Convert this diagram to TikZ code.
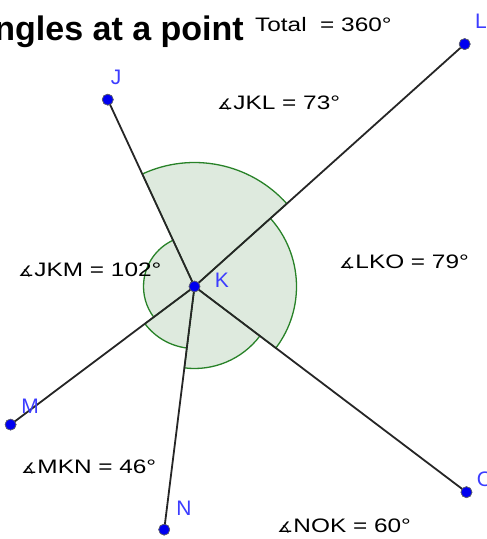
\documentclass[tikz,border=0pt]{standalone}
\usepackage{fontspec}
\usetikzlibrary{calc}
\setmainfont{Liberation Sans}
\newfontfamily\symfont{DejaVu Sans}
\definecolor{secfill}{RGB}{222,234,222}
\definecolor{secline}{RGB}{40,130,40}
\definecolor{ptblue}{RGB}{0,0,240}
\definecolor{lblblue}{RGB}{60,60,255}
\newcommand\widetext[1]{\scalebox{1.25}[1]{#1}}
\newcommand\angsym{{\symfont\fontsize{14.5}{14.5}\selectfont ∡}}
\begin{document}
\begin{tikzpicture}[x=1pt,y=1pt,
 sector/.style={fill=secfill,draw=secline,line width=1.3pt},
 ray/.style={draw=black!85,line width=1.8pt},
 pt/.style={circle,fill=ptblue,draw=black!60,line width=0.6pt,inner sep=0pt,minimum size=11pt},
 ptlabel/.style={text=lblblue,font=\fontsize{21}{21}\selectfont,inner sep=0pt},
 anglabel/.style={font=\fontsize{19.5}{19.5}\selectfont,inner sep=0pt,anchor=west}]
\useasboundingbox (0,0) rectangle (487,-539);
\coordinate (Kc) at (194.5,-286.5);
% sectors
\filldraw[sector] (Kc) -- ++(41.9:124) arc[start angle=41.9,end angle=114.9,radius=124] -- cycle;
\filldraw[sector] (Kc) -- ++(-37.1:102) arc[start angle=-37.1,end angle=41.9,radius=102] -- cycle;
\filldraw[sector] (Kc) -- ++(-97.1:82) arc[start angle=-97.1,end angle=-37.1,radius=82] -- cycle;
\filldraw[sector] (Kc) -- ++(-143.1:62) arc[start angle=-143.1,end angle=-97.1,radius=62] -- cycle;
\filldraw[sector] (Kc) -- ++(114.9:51) arc[start angle=114.9,end angle=216.9,radius=51] -- cycle;
% points
\node[pt] (K) at (Kc) {};
\node[pt] (J) at ($(Kc)+(114.9:206)$) {};
\node[pt] (L) at ($(Kc)+(41.9:363)$) {};
\node[pt] (M) at ($(Kc)+(216.9:230)$) {};
\node[pt] (N) at ($(Kc)+(262.9:245)$) {};
\node[pt] (O) at ($(Kc)+(322.9:341)$) {};
% rays
\draw[ray] (K.center) -- (J.center);
\draw[ray] (K.center) -- (L.center);
\draw[ray] (K.center) -- (M.center);
\draw[ray] (K.center) -- (N.center);
\draw[ray] (K.center) -- (O.center);
% redraw dots on top
\foreach \p in {K,J,L,M,N,O} \node[pt] at (\p) {};
% point labels
\node[ptlabel] (lK) at (222,-280) {K};
\node[ptlabel] (lJ) at (116,-77) {J};
\node[ptlabel] (lL) at (481,-21) {L};
\node[ptlabel] (lM) at (30,-406) {M};
\node[ptlabel] (lN) at (184,-508) {N};
\node[ptlabel] (lO) at (485,-479) {O};
% title and texts
\node[anchor=base east,inner sep=0pt,font=\bfseries\fontsize{34}{34}\selectfont] (title) at (244,-40) {Angles at a point};
\node[anglabel] (total) at (255,-25) {\widetext{Total\ \ = 360°}};
\node[anglabel] (aJKL) at (217,-103) {\widetext{\angsym JKL = 73°}};
\node[anglabel] (aJKM) at (18,-270) {\widetext{\angsym JKM = 102°}};
\node[anglabel] (aLKO) at (339,-262) {\widetext{\angsym LKO = 79°}};
\node[anglabel] (aMKN) at (21,-467) {\widetext{\angsym MKN = 46°}};
\node[anglabel] (aNOK) at (277,-526) {\widetext{\angsym NOK = 60°}};
\end{tikzpicture}
\end{document}
